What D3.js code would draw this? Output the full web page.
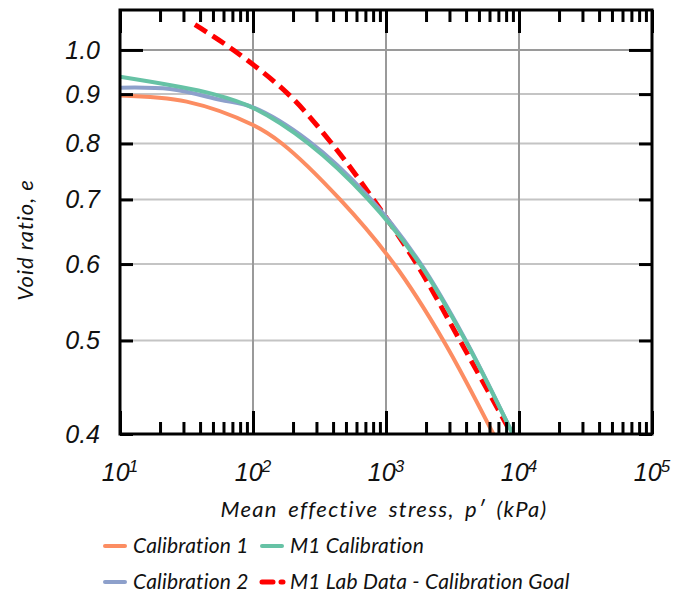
<!DOCTYPE html>
<html>
<head>
<meta charset="utf-8">
<script src="https://cdn.jsdelivr.net/npm/d3@7"></script>
<style>
  body { margin: 0; background: #fff; }
  svg { display: block; }
</style>
</head>
<body>
<div id="chart"></div>
<script>
// data (p' in kPa, void ratio e)
const labP   = [36.6, 71.2, 184, 391, 804, 1702, 3597, 8810];
const labE   = [1.062, 1.000, 0.900, 0.800, 0.700, 0.600, 0.500, 0.400];
const cal1P  = [10, 31.7, 100, 165, 451, 1150, 2698, 6413];
const cal1E  = [0.897, 0.884, 0.836, 0.800, 0.700, 0.600, 0.500, 0.400];
const cal2P  = [10, 23.8, 56.5, 100, 261, 735, 1800, 3950, 8970];
const cal2E  = [0.914, 0.911, 0.888, 0.872, 0.805, 0.705, 0.602, 0.501, 0.400];
const m1P    = [10, 50.4, 100, 261, 735, 1800, 3950, 8970];
const m1E    = [0.938, 0.900, 0.871, 0.800, 0.700, 0.600, 0.500, 0.400];

const yTicks = [0.4, 0.5, 0.6, 0.7, 0.8, 0.9, 1.0];
const xDecades = [10, 100, 1000, 10000, 100000];
const xExps = ["1", "2", "3", "4", "5"];

const series = [
  {name: "Calibration 1", p: cal1P, e: cal1E, color: "#fc8d62"},
  {name: "Calibration 2", p: cal2P, e: cal2E, color: "#8da0cb"},
  {name: "M1 Calibration", p: m1P, e: m1E, color: "#66c2a5"},
];

const svgWidth = 673, svgHeight = 597;
const margin = {top: 10, right: 21, bottom: 163, left: 120},
      width = svgWidth - margin.left - margin.right,
      height = svgHeight - margin.top - margin.bottom;

const svg = d3.select("#chart").append("svg")
    .attr("width", svgWidth).attr("height", svgHeight);

const g = svg.append("g")
    .attr("transform", "translate(" + margin.left + "," + margin.top + ")");

const x = d3.scaleLog().domain([10, 1e5]).range([0, width]);
const y = d3.scaleLog().domain([0.4, 1.1]).range([height, 0]);

const tickFont = "'Liberation Sans', Arial, sans-serif";
const titleFont = "Lato, 'Open Sans', sans-serif";

// grid
g.append("g").selectAll("line")
  .data(yTicks.filter(d => d > 0.4 && d < 1))
  .join("line")
    .attr("x1", 0).attr("x2", width)
    .attr("y1", d => y(d)).attr("y2", d => y(d))
    .attr("stroke", "#c4c4c4").attr("stroke-width", 2);
g.append("line")
    .attr("x1", 0).attr("x2", width)
    .attr("y1", y(1.0)).attr("y2", y(1.0))
    .attr("stroke", "#9a9a9a").attr("stroke-width", 2);
g.append("g").selectAll("line")
  .data(xDecades.slice(1, -1))
  .join("line")
    .attr("x1", d => x(d)).attr("x2", d => x(d))
    .attr("y1", 0).attr("y2", height)
    .attr("stroke", "#9a9a9a").attr("stroke-width", 2);

// curves
const line = d3.line().curve(d3.curveCatmullRom.alpha(0.5));

g.append("path")
    .datum(labP.map((p, i) => [x(p), y(labE[i])]))
    .attr("fill", "none")
    .attr("stroke", "#ff0000")
    .attr("stroke-width", 5)
    .attr("stroke-dasharray", "14,7")
    .attr("d", line);

series.forEach(s => {
  g.append("path")
    .datum(s.p.map((p, i) => [x(p), y(s.e[i])]))
    .attr("fill", "none")
    .attr("stroke", s.color)
    .attr("stroke-width", 4)
    .attr("d", line);
});

// ticks (inward), all four sides
const minorX = [];
xDecades.slice(0, -1).forEach(d => { for (let k = 2; k <= 9; k++) minorX.push(d * k); });

function styleTicks(sel) {
  sel.select(".domain").remove();
  sel.selectAll(".tick line").attr("stroke", "#000").attr("stroke-width", 3);
  sel.selectAll(".tick text").remove();
}

g.append("g").attr("transform", "translate(0," + height + ")")
  .call(d3.axisBottom(x).tickValues(minorX).tickSize(-12)).call(styleTicks);
g.append("g").attr("transform", "translate(0," + height + ")")
  .call(d3.axisBottom(x).tickValues(xDecades).tickSize(-23)).call(styleTicks);
g.append("g")
  .call(d3.axisTop(x).tickValues(minorX).tickSize(-12)).call(styleTicks);
g.append("g")
  .call(d3.axisTop(x).tickValues(xDecades).tickSize(-23)).call(styleTicks);

g.append("g")
  .call(d3.axisLeft(y).tickValues(yTicks.filter(d => d !== 1)).tickSize(-13)).call(styleTicks);
g.append("g")
  .call(d3.axisLeft(y).tickValues([1.0]).tickSize(-23)).call(styleTicks);
g.append("g").attr("transform", "translate(" + width + ",0)")
  .call(d3.axisRight(y).tickValues(yTicks.filter(d => d !== 1)).tickSize(-13)).call(styleTicks);
g.append("g").attr("transform", "translate(" + width + ",0)")
  .call(d3.axisRight(y).tickValues([1.0]).tickSize(-23)).call(styleTicks);

// frame
g.append("rect")
    .attr("width", width).attr("height", height)
    .attr("fill", "none").attr("stroke", "#000").attr("stroke-width", 3);

// tick labels
g.append("g").selectAll("text")
  .data(yTicks)
  .join("text")
    .attr("x", -20).attr("y", d => y(d)).attr("dy", "0.36em")
    .attr("text-anchor", "end")
    .attr("font-family", tickFont).attr("font-style", "italic")
    .attr("font-size", 25).attr("fill", "#111")
    .text(d => d3.format(".1f")(d));

const xl = g.append("g").selectAll("text")
  .data(xDecades)
  .join("text")
    .attr("x", d => x(d)).attr("y", height + 47)
    .attr("text-anchor", "middle")
    .attr("font-family", tickFont).attr("font-style", "italic")
    .attr("font-size", 25).attr("fill", "#111");
xl.append("tspan").text("10");
xl.append("tspan").attr("dy", -9).attr("dx", -1).attr("font-size", 17).text((d, i) => xExps[i]);

// axis titles
svg.append("text")
    .attr("x", margin.left + width / 2 - 2).attr("y", 517)
    .attr("text-anchor", "middle")
    .attr("font-family", titleFont).attr("font-style", "italic")
    .attr("font-size", 22).attr("letter-spacing", 1.3).attr("word-spacing", 4)
    .attr("fill", "#111")
    .text("Mean effective stress, p\u2032 (kPa)");

svg.append("text")
    .attr("transform", "translate(33,240) rotate(-90)")
    .attr("text-anchor", "middle")
    .attr("font-family", titleFont).attr("font-style", "italic")
    .attr("font-size", 22).attr("letter-spacing", 1)
    .attr("fill", "#111")
    .text("Void ratio, e");

// legend
const legendItems = [
  {name: "Calibration 1", color: "#fc8d62", col: 0, row: 0},
  {name: "M1 Calibration", color: "#66c2a5", col: 1, row: 0},
  {name: "Calibration 2", color: "#8da0cb", col: 0, row: 1},
  {name: "M1 Lab Data - Calibration Goal", color: "#ff0000", col: 1, row: 1, dashed: true},
];
const colX = [105, 262], rowY = [546, 582];

const leg = svg.append("g").selectAll("g")
  .data(legendItems)
  .join("g")
    .attr("transform", d => "translate(" + colX[d.col] + "," + rowY[d.row] + ")");
leg.append("line")
    .attr("x1", 0).attr("x2", d => d.dashed ? 21 : 20)
    .attr("stroke", d => d.color)
    .attr("stroke-width", d => d.dashed ? 5 : 4)
    .attr("stroke-linecap", "round")
    .attr("stroke-dasharray", d => d.dashed ? "11,8" : null);
leg.append("text")
    .attr("x", 28).attr("dy", "0.35em")
    .attr("font-family", titleFont).attr("font-style", "italic")
    .attr("font-size", 21).attr("letter-spacing", 0.2)
    .attr("fill", "#111")
    .text(d => d.name);
</script>
</body>
</html>
